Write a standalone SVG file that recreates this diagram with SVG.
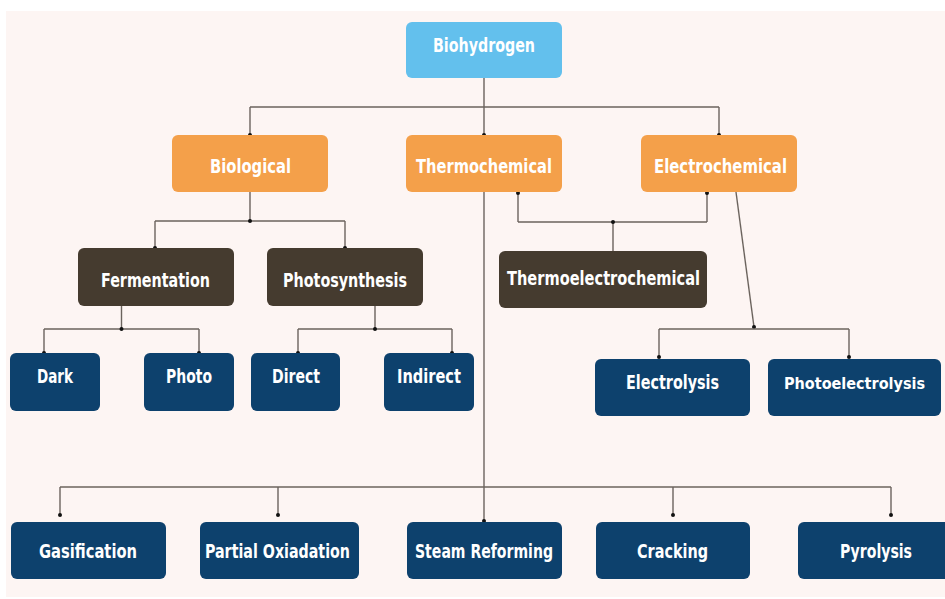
<svg xmlns="http://www.w3.org/2000/svg" width="945" height="599" viewBox="0 0 945 599">
<defs>
<marker id="dot" viewBox="0 0 6 6" refX="3" refY="3" markerWidth="4" markerHeight="4" markerUnits="userSpaceOnUse"><circle cx="3" cy="3" r="3" fill="#111"/></marker>
<style>
.box{stroke:none}
.root{fill:#63c0ed}
.cat{fill:#f4a04a}
.sub{fill:#453b2f}
.leaf{fill:#0d416d}
.t{font-family:"DejaVu Sans Condensed","DejaVu Sans",sans-serif;font-weight:bold;font-size:19px;fill:#ffffff;text-anchor:middle}
.s{font-size:16px}
.c{fill:none;stroke:#6b635d;stroke-width:1.4}
.e{marker-end:url(#dot)}
.j{fill:#111}
</style>
</defs>
<rect x="0" y="0" width="945" height="599" fill="#ffffff"/>
<rect x="6" y="11" width="939" height="586" fill="#fdf5f3"/>

<g id="connectors">
<path class="c" d="M484,78 V107 M250,107 H719"/>
<path class="c e" d="M250,107 V135"/>
<path class="c e" d="M484,107 V135"/>
<path class="c e" d="M719,107 V135"/>

<path class="c" d="M250,192 V221 M155,221 H345"/>
<path class="c e" d="M155,221 V248"/>
<path class="c e" d="M345,221 V248"/>
<circle class="j" cx="250" cy="221" r="2"/>

<path class="c" d="M121.5,306 V329 M44,329 H199"/>
<path class="c e" d="M44,329 V353"/>
<path class="c e" d="M199,329 V353"/>
<circle class="j" cx="121.5" cy="329" r="2"/>

<path class="c" d="M375,306 V329 M298,329 H452"/>
<path class="c e" d="M298,329 V353"/>
<path class="c e" d="M452,329 V353"/>
<circle class="j" cx="375" cy="329" r="2"/>

<path class="c" d="M613,251 V222 M518,222 H707"/>
<path class="c e" d="M518,222 V193"/>
<path class="c e" d="M707,222 V193"/>
<circle class="j" cx="613" cy="222" r="2"/>

<path class="c e" d="M736,192 L754,327"/>
<path class="c" d="M659,329 H849"/>
<path class="c e" d="M659,329 V357"/>
<path class="c e" d="M849,329 V357"/>

<path class="c e" d="M484,192 V521"/>
<path class="c" d="M60,487 H891"/>
<path class="c e" d="M60,487 V515"/>
<path class="c e" d="M278,487 V515"/>
<path class="c e" d="M673,487 V515"/>
<path class="c e" d="M891,487 V515"/>
</g>

<g id="biohydrogen"><rect class="box root" x="406" y="22" width="156" height="56" rx="6"/><text class="t" x="484" y="52" textLength="102" lengthAdjust="spacingAndGlyphs">Biohydrogen</text></g>

<g id="biological"><rect class="box cat" x="172" y="135" width="156" height="57" rx="6"/><text class="t" x="250.5" y="173" textLength="81" lengthAdjust="spacingAndGlyphs">Biological</text></g>
<g id="thermochemical"><rect class="box cat" x="406" y="135" width="156" height="57" rx="6"/><text class="t" x="484" y="173" textLength="136" lengthAdjust="spacingAndGlyphs">Thermochemical</text></g>
<g id="electrochemical"><rect class="box cat" x="641" y="135" width="156" height="57" rx="6"/><text class="t" x="720.5" y="173" textLength="133" lengthAdjust="spacingAndGlyphs">Electrochemical</text></g>

<g id="fermentation"><rect class="box sub" x="78" y="248" width="156" height="58" rx="6"/><text class="t" x="155.5" y="287" textLength="109" lengthAdjust="spacingAndGlyphs">Fermentation</text></g>
<g id="photosynthesis"><rect class="box sub" x="267" y="248" width="156" height="58" rx="6"/><text class="t" x="345" y="287" textLength="124" lengthAdjust="spacingAndGlyphs">Photosynthesis</text></g>
<g id="thermoelectrochemical"><rect class="box sub" x="499" y="251" width="208" height="57" rx="6"/><text class="t" x="603.5" y="285" textLength="193" lengthAdjust="spacingAndGlyphs">Thermoelectrochemical</text></g>

<g id="dark"><rect class="box leaf" x="10" y="353" width="90" height="58" rx="6"/><text class="t" x="55" y="383" textLength="36" lengthAdjust="spacingAndGlyphs">Dark</text></g>
<g id="photo"><rect class="box leaf" x="144" y="353" width="90" height="58" rx="6"/><text class="t" x="189" y="383" textLength="46" lengthAdjust="spacingAndGlyphs">Photo</text></g>
<g id="direct"><rect class="box leaf" x="251" y="353" width="89" height="58" rx="6"/><text class="t" x="296" y="383" textLength="48" lengthAdjust="spacingAndGlyphs">Direct</text></g>
<g id="indirect"><rect class="box leaf" x="384" y="353" width="90" height="58" rx="6"/><text class="t" x="429" y="383" textLength="64" lengthAdjust="spacingAndGlyphs">Indirect</text></g>

<g id="electrolysis"><rect class="box leaf" x="595" y="359" width="155" height="57" rx="6"/><text class="t" x="672.5" y="389" textLength="93" lengthAdjust="spacingAndGlyphs">Electrolysis</text></g>
<g id="photoelectrolysis"><rect class="box leaf" x="768" y="359" width="173" height="57" rx="6"/><text class="t s" x="854.5" y="389" textLength="141" lengthAdjust="spacingAndGlyphs">Photoelectrolysis</text></g>

<g id="gasification"><rect class="box leaf" x="11" y="522" width="155" height="57" rx="6"/><text class="t" x="88" y="558" textLength="98" lengthAdjust="spacingAndGlyphs">Gasification</text></g>
<g id="partial-oxiadation"><rect class="box leaf" x="200" y="522" width="159" height="57" rx="6"/><text class="t" x="277.5" y="558" textLength="145" lengthAdjust="spacingAndGlyphs">Partial Oxiadation</text></g>
<g id="steam-reforming"><rect class="box leaf" x="407" y="522" width="155" height="57" rx="6"/><text class="t" x="484" y="558" textLength="138" lengthAdjust="spacingAndGlyphs">Steam Reforming</text></g>
<g id="cracking"><rect class="box leaf" x="596" y="522" width="154" height="57" rx="6"/><text class="t" x="672.5" y="558" textLength="71" lengthAdjust="spacingAndGlyphs">Cracking</text></g>
<g id="pyrolysis"><rect class="box leaf" x="798" y="522" width="156" height="57" rx="6"/><text class="t" x="876" y="558" textLength="72" lengthAdjust="spacingAndGlyphs">Pyrolysis</text></g>
</svg>
